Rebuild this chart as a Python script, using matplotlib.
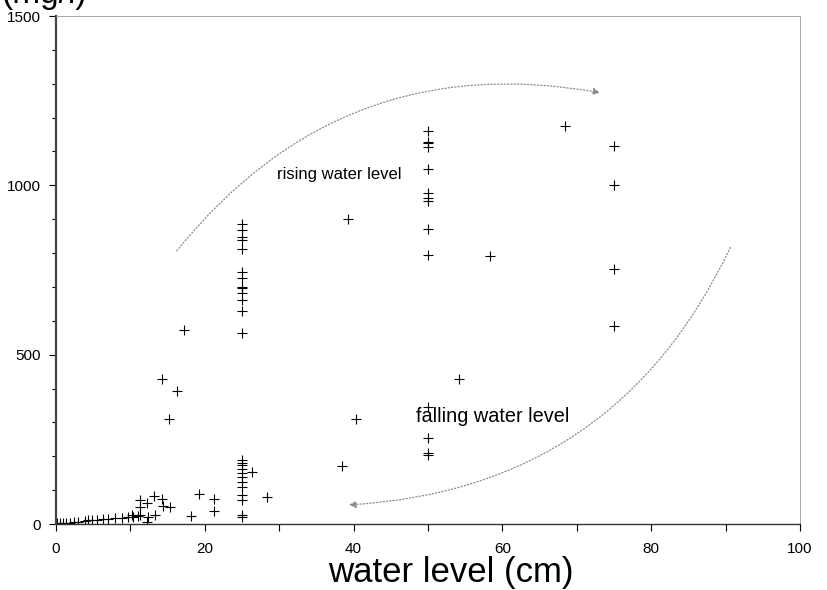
import matplotlib
matplotlib.use("Agg")
import matplotlib.pyplot as plt
from matplotlib.ticker import MultipleLocator, FixedLocator, FixedFormatter

plt.rcParams['font.family'] = ['Liberation Sans', 'DejaVu Sans']

# ---- data ----
low_x = [0.1, 0.5, 1.0, 1.4, 1.9, 2.4, 3.0, 3.9, 4.3, 4.8, 5.5, 6.3, 7.0, 7.9, 8.9,
         9.7, 10.3, 11.0, 10.2, 11.3, 12.4, 13.3, 12.2, 11.3, 11.3, 12.2, 13.2, 14.2,
         14.4, 15.3, 18.1, 19.2, 21.2, 21.2, 14.2, 16.2, 15.2, 17.2]
low_y = [2, 3, 3, 4, 4, 5, 6, 10, 11, 12, 13, 14, 15, 17, 19,
         20, 22, 24, 27, 27, 21, 27, 6, 50, 71, 62, 83, 74,
         53, 50, 24, 89, 74, 38, 428, 393, 310, 573]
col25_y = [886, 868, 847, 838, 812, 744, 726, 700, 697, 682, 661, 629, 564,
           189, 181, 174, 162, 151, 139, 124, 109, 86, 71, 21, 26]
col50_y = [1161, 1129, 1124, 1112, 1047, 978, 962, 955, 870, 794, 346, 254, 210, 204]
col75_y = [1116, 1001, 752, 586]
other_x = [26.3, 28.4, 38.4, 39.2, 40.3, 54.2, 58.3, 68.4]
other_y = [154, 80, 171, 901, 310, 428, 790, 1175]

x_ticks = [0, 10, 20, 30, 40, 50, 60, 70, 80, 90, 100]
x_labels = ['0', '', '20', '', '40', '', '60', '', '80', '', '100']
y_ticks = [0, 500, 1000, 1500]
y_labels = ['0', '500', '1000', '1500']

rising_start, rising_end = (16.0, 800.0), (73.5, 1272.0)
falling_start, falling_end = (90.8, 824.0), (39.0, 56.0)

xs = low_x + [25] * len(col25_y) + [50] * len(col50_y) + [75] * len(col75_y) + other_x
ys = low_y + col25_y + col50_y + col75_y + other_y

fig = plt.figure(figsize=(8.27, 5.90), dpi=100)
ax = fig.add_axes([56 / 827, 1 - 524 / 590, 744 / 827, 508 / 590])

ax.plot(xs, ys, linestyle='none', marker='+', color='black', markersize=7, mew=0.8)

ax.set_xlim(0, 100)
ax.set_ylim(0, 1500)
ax.xaxis.set_major_locator(FixedLocator(x_ticks))
ax.xaxis.set_major_formatter(FixedFormatter(x_labels))
ax.yaxis.set_major_locator(FixedLocator(y_ticks))
ax.yaxis.set_major_formatter(FixedFormatter(y_labels))
ax.yaxis.set_minor_locator(MultipleLocator(100))
ax.tick_params(axis='both', which='major', length=5, width=0.8, labelsize=11, colors='black')
ax.tick_params(axis='y', which='minor', length=3, width=0.8)
ax.tick_params(axis='x', pad=8)
ax.tick_params(axis='y', pad=6)

for s in ['top', 'right']:
    ax.spines[s].set_color('#999999')
    ax.spines[s].set_linewidth(0.6)
ax.spines['left'].set_color('#444444')
ax.spines['left'].set_linewidth(1.6)
ax.spines['bottom'].set_color('#333333')
ax.spines['bottom'].set_linewidth(1.0)

ax.set_xlabel('water level (cm)', fontsize=25, va='top')
ax.xaxis.set_label_coords(0.531, -0.063)
fig.text(0.002, 1 - 3 / 590, '(mg/l)', fontsize=24, ha='left', va='baseline')

arrow_kw = dict(arrowstyle='-|>', color='#8a8a8a', lw=0.9, linestyle=':',
                mutation_scale=10)
ax.annotate('', xy=rising_end, xytext=rising_start,
            arrowprops=dict(connectionstyle='arc3,rad=-0.3', **arrow_kw))
ax.annotate('', xy=falling_end, xytext=falling_start,
            arrowprops=dict(connectionstyle='arc3,rad=-0.3', **arrow_kw))

ax.text(29.7, 1031, 'rising water level', fontsize=12, ha='left', va='center')
ax.text(48.4, 316, 'falling water level', fontsize=14.3, ha='left', va='center')

fig.savefig('out.png', dpi=100)
